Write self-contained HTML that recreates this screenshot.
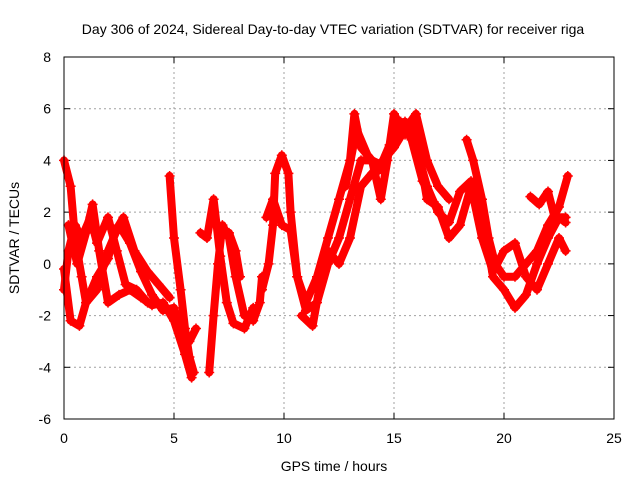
<!DOCTYPE html>
<html><head><meta charset="utf-8"><style>
html,body{margin:0;padding:0;background:#fff;}
svg{display:block;font-family:"Liberation Sans",sans-serif;}
</style></head><body>
<svg id="chart" width="640" height="480" viewBox="0 0 640 480">
<rect width="640" height="480" fill="#fff"/>
<text x="333" y="34" font-size="14" text-anchor="middle">Day 306 of 2024, Sidereal Day-to-day VTEC variation (SDTVAR) for receiver riga</text>
<text x="334" y="471" font-size="14" text-anchor="middle">GPS time / hours</text>
<text transform="translate(19,238) rotate(-90)" font-size="14" text-anchor="middle">SDTVAR / TECUs</text>
<g id="grid"></g>
<g id="ticks"></g>
<g id="series"></g>
<rect x="64" y="57" width="550" height="362" fill="none" stroke="#000" stroke-width="1"/>
</svg>
<script>
const xTicks=[0,5,10,15,20,25];
const yTicks=[-6,-4,-2,0,2,4,6,8];
const s1=[[0,4],[0.3,3],[0.5,1],[0.8,-0.5],[1,-1.5],[1.5,-1],[2,0.5],[2.5,1.5],[3,0.8],[3.5,-0.3],[4,-1.2],[4.5,-1.8],[5,-1.7],[5.3,-2.5],[5.7,-3],[6,-2.5]];
const s2=[[0,-0.2],[0.3,-2.2],[0.7,-2.4],[1,-1.5],[1.5,-0.5],[2,0.2],[2.3,1.2],[2.7,1.8],[3.2,0.5],[3.8,-0.3],[4.3,-0.8],[4.8,-1.3]];
const s3=[[0.2,1.5],[0.6,0],[1,1.2],[1.3,2.3],[1.6,0.5],[2,-1.5],[2.5,-1.2],[3,-1],[3.5,-1.3],[4,-1.6],[4.5,-1.5],[5,-2.2],[5.5,-3.5],[5.8,-4.4]];
const s4=[[4.8,3.4],[5,1],[5.3,-1],[5.5,-2.5],[5.7,-3.6],[5.9,-4.2]];
const s5=[[6.6,-4.2],[6.8,-2],[7,0],[7.2,1.5],[7.5,1],[7.8,-0.5],[8.2,-2],[8.6,-2.2],[8.9,-1.5],[9,-0.5]];
const s6=[[6.2,1.2],[6.5,1],[6.8,2.5],[7.1,0.3],[7.4,-1.5],[7.7,-2.3],[8.2,-2.5],[8.6,-1.7]];
const s7=[[7.5,1.2],[7.8,0.5],[8,-0.5]];
const s8=[[9,-1],[9.3,0],[9.5,1.5],[9.6,3.5],[9.9,4.2],[10.2,3.5],[10.3,2],[10.6,-0.5],[11,-1.8],[11.5,-1.5],[12,0],[12.5,1],[13,2.5],[13.5,4],[14,4],[14.5,3.8],[15,5],[15.5,5.5],[16,4.5],[16.5,3],[17,2],[17.5,1.6],[18,2.8],[18.5,3.2],[19,2],[19.5,-0.5],[20,-1],[20.5,-1.7],[21,-1.2],[21.5,0],[22,1],[22.5,1.8],[22.8,1.6]];
const s9=[[9.2,1.8],[9.5,2.5],[9.9,1.5],[10.3,1.3],[10.6,-0.5],[11,-1.5],[11.5,-0.5],[12,1],[12.5,2.5],[13,4],[13.2,5.8],[13.5,4.5],[14,4],[14.4,2.5],[14.7,4],[15,5.8],[15.5,5],[16,5.5],[16.2,4],[16.5,2.5],[17,2.2],[17.5,1],[18,1.5],[18.5,3],[19,1],[19.5,-0.3],[20,0.5],[20.5,0.8],[21,-0.5],[21.5,-1],[22,0],[22.5,1],[22.8,0.5]];
const s10=[[18.3,4.8],[18.6,4],[19,2.5],[19.3,1],[19.6,0],[20,-0.5],[20.5,-0.5],[21,0],[21.5,0.5],[22,1.5],[22.5,2.2],[22.9,3.4]];
const s11=[[10.8,-2],[11.3,-2.4],[11.7,-0.5],[12,0.5],[12.5,0],[13,1],[13.5,3],[14,3.5],[14.5,4],[15,4.5],[15.5,5.2],[16,5.8],[16.5,4],[17,3],[17.5,2.5]];
const s12=[[21.2,2.6],[21.6,2.3],[22,2.8],[22.3,1.8],[22.8,1.8]];
const s13=[[0,-1],[0.2,0.5],[0.5,1.5],[0.8,1],[1.2,1.8],[1.5,0.8],[2,1.8],[2.4,0.5],[2.8,-0.8],[3.3,-1],[3.8,-1.5]];
const s14=[[12.8,3],[13.3,5.2],[13.8,4.2],[14.3,3.6],[14.8,4.6],[15.3,5.5],[15.8,4.8],[16.3,3.2],[16.8,2.4]];
const allSeries=[s1,s2,s3,s4,s5,s6,s7,s8,s9,s10,s11,s12,s13,s14];

const NS="http://www.w3.org/2000/svg";
const X0=64,X1=614,Y0=419,Y1=57;
function xs(v){return X0+(v-0)/25*(X1-X0);}
function ys(v){return Y0-(v+6)/14*(Y0-Y1);}
function mk(tag,attrs,parent){const e=document.createElementNS(NS,tag);for(const k in attrs)e.setAttribute(k,attrs[k]);parent.appendChild(e);return e;}
const grid=document.getElementById('grid'),ticks=document.getElementById('ticks'),ser=document.getElementById('series');
xTicks.forEach(t=>{
  const x=xs(t);
  if(t>0&&t<25){const g=mk('line',{x1:x,x2:x,y1:Y1,y2:Y0,stroke:'#a0a0a0','stroke-dasharray':'2,3'},grid);
  
  }
  mk('line',{x1:x,x2:x,y1:Y0,y2:Y0-6,stroke:'#000'},ticks);
  mk('line',{x1:x,x2:x,y1:Y1,y2:Y1+6,stroke:'#000'},ticks);
  const l=mk('text',{x:x,y:443,'font-size':14,'text-anchor':'middle'},ticks);l.textContent=t;
  
  
});
yTicks.forEach(t=>{
  const y=ys(t);
  if(t>-6&&t<8){const g=mk('line',{x1:X0,x2:X1,y1:y,y2:y,stroke:'#a0a0a0','stroke-dasharray':'2,3'},grid);
  
  }
  mk('line',{x1:X0,x2:X0+6,y1:y,y2:y,stroke:'#000'},ticks);
  mk('line',{x1:X1,x2:X1-6,y1:y,y2:y,stroke:'#000'},ticks);
  const l=mk('text',{x:51,y:y+5,'font-size':14,'text-anchor':'end'},ticks);l.textContent=t;
  
  
});
allSeries.forEach((s,i)=>{
  const pts=s.map(p=>xs(p[0]).toFixed(1)+','+ys(p[1]).toFixed(1)).join(' ');
  const pl=mk('polyline',{points:pts,fill:'none',stroke:'#ff0000','stroke-width':8,'stroke-linejoin':'round','stroke-linecap':'round'},ser);
  
  
  s.forEach(p=>{
    const x=xs(p[0]),y=ys(p[1]);
    const c=mk('path',{d:`M${x-5},${y}H${x+5}M${x},${y-5}V${y+5}`,stroke:'#ff0000','stroke-width':1.5},ser);
    
    
  });
});
</script>
</body></html>
